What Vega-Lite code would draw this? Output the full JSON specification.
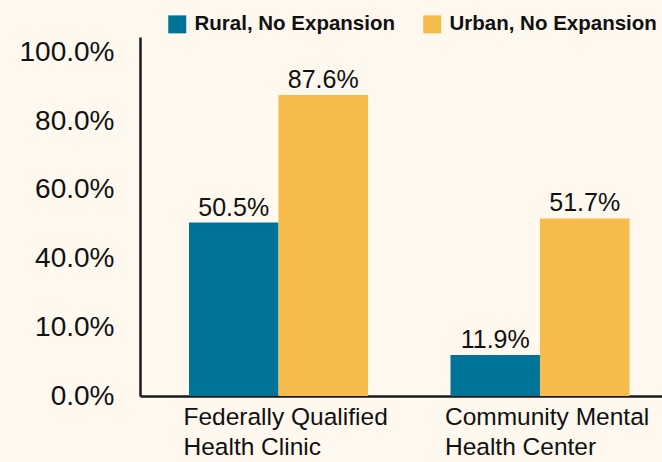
{
  "$schema": "https://vega.github.io/schema/vega-lite/v6.json",
  "width": 522,
  "height": 359,
  "autosize": "none",
  "padding": {"left": 140, "top": 37, "right": 0, "bottom": 66},
  "background": "#FEF8EE",
  "config": {
    "font": "Liberation Sans",
    "view": {"stroke": null}
  },
  "data": {
    "values": [
      {"facility": "Federally Qualified Health Clinic", "group": "Rural, No Expansion", "value": 0.505},
      {"facility": "Federally Qualified Health Clinic", "group": "Urban, No Expansion", "value": 0.876},
      {"facility": "Community Mental Health Center", "group": "Rural, No Expansion", "value": 0.119},
      {"facility": "Community Mental Health Center", "group": "Urban, No Expansion", "value": 0.517}
    ]
  },
  "encoding": {
    "x": {
      "field": "facility",
      "type": "nominal",
      "sort": ["Federally Qualified Health Clinic", "Community Mental Health Center"],
      "scale": {"paddingInner": 0.3155, "paddingOuter": 0.1559, "align": 0.601},
      "axis": {
        "title": null,
        "labelAngle": 0,
        "ticks": false,
        "domainColor": "#1a1a1a",
        "domainWidth": 2.5,
        "labelFontSize": 24.5,
        "labelColor": "#111111",
        "labelAlign": "left",
        "labelBaseline": "top",
        "labelOffset": -95,
        "labelPadding": 9,
        "labelLineHeight": 30,
        "labelLimit": 0,
        "labelOverlap": false,
        "labelBound": false,
        "labelExpr": "datum.value == 'Federally Qualified Health Clinic' ? ['Federally Qualified', 'Health Clinic'] : ['Community Mental', 'Health Center']"
      }
    },
    "xOffset": {
      "field": "group",
      "type": "nominal",
      "sort": ["Rural, No Expansion", "Urban, No Expansion"],
      "scale": {"paddingInner": 0, "paddingOuter": 0}
    },
    "y": {
      "field": "value",
      "type": "quantitative",
      "scale": {"domain": [0, 1.045], "nice": false},
      "axis": {
        "title": null,
        "values": [0, 0.2, 0.4, 0.6, 0.8, 1.0],
        "labelExpr": "datum.value == 0.2 ? '10.0%' : format(datum.value, '.1%')",
        "grid": false,
        "ticks": false,
        "domainColor": "#1a1a1a",
        "domainWidth": 2.5,
        "labelFontSize": 28,
        "labelColor": "#111111",
        "labelPadding": 26,
        "labelLimit": 0
      }
    }
  },
  "layer": [
    {
      "mark": {"type": "bar"},
      "encoding": {
        "color": {
          "field": "group",
          "type": "nominal",
          "scale": {"domain": ["Rural, No Expansion", "Urban, No Expansion"], "range": ["#007398", "#F5BC4B"]},
          "legend": {
            "title": null,
            "orient": "none",
            "direction": "horizontal",
            "legendX": 27,
            "legendY": -23,
            "symbolType": "square",
            "symbolSize": 324,
            "symbolStrokeWidth": 0,
            "symbolOpacity": 1,
            "labelFontSize": 20.5,
            "labelFontWeight": "bold",
            "labelColor": "#111111",
            "labelOffset": 7,
            "labelLimit": 0,
            "columnPadding": 27
          }
        }
      }
    },
    {
      "mark": {"type": "text", "baseline": "alphabetic", "dy": -7, "fontSize": 25, "color": "#111111"},
      "encoding": {
        "text": {"field": "value", "type": "quantitative", "format": ".1%"}
      }
    }
  ]
}
